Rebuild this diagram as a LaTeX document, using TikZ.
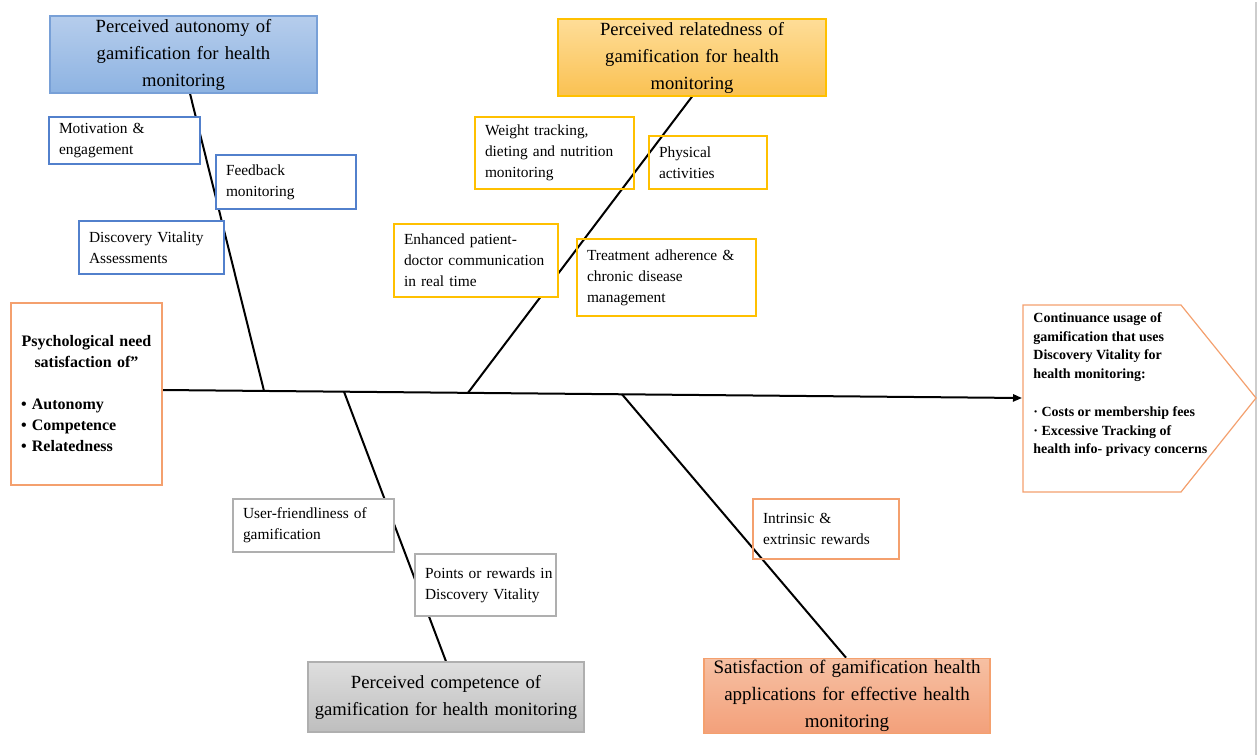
\documentclass[tikz,border=0pt]{standalone}
\usepackage{fontspec}
\setmainfont{Liberation Serif}
\usetikzlibrary{arrows.meta,calc,backgrounds}
\definecolor{blueT}{RGB}{182,205,236}
\definecolor{blueB}{RGB}{141,179,226}
\definecolor{blueBig}{RGB}{120,160,215}
\definecolor{blueSmall}{RGB}{82,128,204}
\definecolor{yelT}{RGB}{254,221,152}
\definecolor{yelB}{RGB}{250,193,82}
\definecolor{yelBorder}{RGB}{255,192,0}
\definecolor{grayT}{RGB}{222,222,222}
\definecolor{grayB}{RGB}{190,190,190}
\definecolor{grayBorder}{RGB}{175,175,175}
\definecolor{orT}{RGB}{246,192,163}
\definecolor{orB}{RGB}{243,160,122}
\definecolor{orBorder}{RGB}{244,160,110}
\definecolor{frameGray}{RGB}{205,205,205}
\begin{document}
\begin{tikzpicture}[x=0.5pt,y=-0.5pt,
  bigbox/.style={draw, line width=0.6pt, align=center, inner xsep=2pt, inner ysep=1pt,
    font=\fontsize{9.3}{13.5}\selectfont},
  smallbox/.style={draw, line width=0.6pt, align=left, inner xsep=5pt, inner ysep=1pt,
    font=\fontsize{7.7}{10.5}\selectfont},
  bone/.style={line width=1pt, black},
]
\useasboundingbox (0,0) rectangle (1257,755);
\draw[frameGray, line width=1pt] (1255.5,2) -- (1255.5,755);

% head boxes
\node[bigbox, draw=blueBig, top color=blueT, bottom color=blueB, minimum width=133.5pt, minimum height=38.5pt, text width=129.5pt] (aut) at (183.5,54.5) {Perceived autonomy of\\ gamification for health\\ monitoring};
\node[bigbox, draw=yelBorder, top color=yelT, bottom color=yelB, minimum width=134pt, minimum height=38.5pt, text width=130pt] (rel) at (692,57.5) {Perceived relatedness of\\ gamification for health\\ monitoring};
\node[bigbox, draw=grayBorder, top color=grayT, bottom color=grayB, minimum width=138pt, minimum height=35pt, text width=134pt] (com) at (446,697) {Perceived competence of\\ gamification for health monitoring};
\node[bigbox, draw=orBorder, top color=orT, bottom color=orB, minimum width=143pt, minimum height=35pt, text width=139pt, font=\fontsize{9.5}{13.5}\selectfont] (sat) at (847,696) {Satisfaction of gamification health\\ applications for effective health\\ monitoring};

% autonomy causes
\node[smallbox, draw=blueSmall, fill=white, minimum height=23.5pt, text width=65.5pt] (mot) at (124.5,140.5) {\mbox{Motivation \&}\\ \mbox{engagement}};
\node[smallbox, draw=blueSmall, fill=white, minimum height=27pt, text width=60pt] (fee) at (286,182) {\mbox{Feedback}\\ \mbox{monitoring}};
\node[smallbox, draw=blueSmall, fill=white, minimum height=26.5pt, text width=62.5pt] (dva) at (151.5,247.5) {\mbox{Discovery Vitality}\\ \mbox{Assessments}};

% relatedness causes
\node[smallbox, draw=yelBorder, minimum height=36pt, text width=69.5pt] (wei) at (554.5,153) {\mbox{Weight tracking,}\\ \mbox{dieting and nutrition}\\ \mbox{monitoring}};
\node[smallbox, draw=yelBorder, minimum height=26.5pt, text width=49pt] (phy) at (708,162.5) {\mbox{Physical}\\ \mbox{activities}};
\node[smallbox, draw=yelBorder, fill=white, minimum height=36.5pt, text width=72pt] (enh) at (476,260.5) {\mbox{Enhanced patient-}\\ \mbox{doctor communication}\\ \mbox{in real time}};
\node[smallbox, draw=yelBorder, minimum height=38.5pt, text width=79.5pt] (tre) at (666.5,277.5) {\mbox{Treatment adherence \&}\\ \mbox{chronic disease}\\ \mbox{management}};

% competence causes
\node[smallbox, draw=grayBorder, fill=white, minimum height=26.5pt, text width=70.5pt] (usr) at (313.5,525.5) {\mbox{User-friendliness of}\\ \mbox{gamification}};
\node[smallbox, draw=grayBorder, fill=white, minimum height=31pt, text width=60.5pt] (pts) at (485.5,585) {\mbox{Points or rewards in}\\ \mbox{Discovery Vitality}};

% satisfaction cause
\node[smallbox, draw=orBorder, minimum height=30pt, text width=63pt] (int) at (826,529) {\mbox{Intrinsic \&}\\ \mbox{extrinsic rewards}};

% left box
\node[draw=orBorder, line width=0.6pt, fill=white, minimum height=91pt, text width=65.5pt, inner xsep=5pt, align=left, font=\fontsize{8}{10.5}\selectfont\bfseries] (psy) at (86.5,394)
 {\hfill\mbox{Psychological need}\hfill\mbox{}\\ \mbox{}\hfill\mbox{satisfaction of”}\hfill\mbox{}\\[10.5pt]
  \mbox{• Autonomy}\\ \mbox{• Competence}\\ \mbox{• Relatedness}};

% right pentagon
\draw[orBorder, line width=0.6pt, fill=white] (1023,305) -- (1181,305) -- (1256,398) -- (1181,492) -- (1023,492) -- cycle;
\coordinate (goal) at (1022,398);
\node[anchor=north west, align=left, inner sep=0pt, font=\fontsize{7}{9.4}\selectfont\bfseries] (goaltext) at (1033,312)
 {Continuance usage of\\ gamification that uses\\ Discovery Vitality for\\ health monitoring:\\[9.4pt]
  · Costs or membership fees\\ · Excessive Tracking of\\ health info- privacy concerns};

% spine and bones
\coordinate (sA) at (264,390.9);
\coordinate (sR) at (468,392.8);
\coordinate (sC) at (344,391.7);
\coordinate (sS) at (622,394.3);
\begin{scope}[on background layer]
\draw[bone, -{Triangle[length=4.5pt,width=3.6pt]}] ($(psy.east)+(0,-4)$) -- (goal);
\draw[bone] ($(aut.south)+(6.5,0)$) -- (sA);
\draw[bone] (rel.south) -- (sR);
\draw[bone] (sC) -- (com.north);
\draw[bone] (sS) -- ($(sat.north)+(-1,0)$);
\end{scope}
\end{tikzpicture}
\end{document}
